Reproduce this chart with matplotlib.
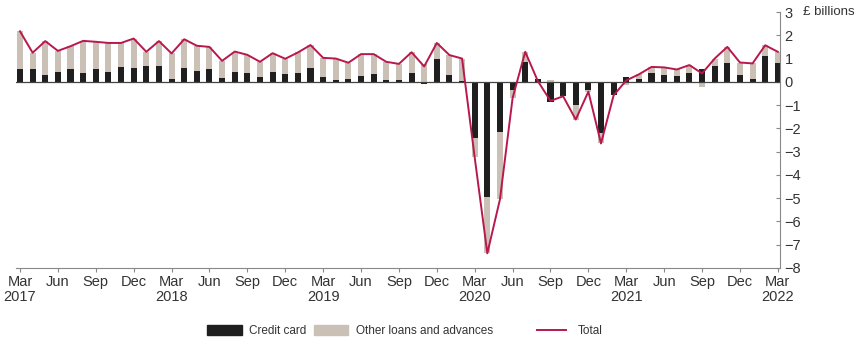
import numpy as np
import matplotlib
matplotlib.use("Agg")
import matplotlib.pyplot as plt
from matplotlib.patches import Patch
from matplotlib.lines import Line2D

plt.rcParams['font.family'] = ['Liberation Sans', 'DejaVu Sans']

# monthly data, Mar 2017 - Mar 2022 (£ billions)
credit_card = [0.53, 0.53, 0.29, 0.43, 0.53, 0.40, 0.57, 0.43, 0.64, 0.61, 0.70, 0.69,
               0.12, 0.59, 0.46, 0.54, 0.17, 0.42, 0.36, 0.21, 0.42, 0.32, 0.36, 0.60,
               0.21, 0.09, 0.14, 0.23, 0.33, 0.09, 0.06, 0.39, -0.10, 0.96, 0.29, 0.02,
               -2.43, -4.94, -2.15, -0.36, 0.86, 0.10, -0.88, -0.61, -1.00, -0.36, -2.22, -0.55,
               0.19, 0.14, 0.39, 0.29, 0.27, 0.36, 0.57, 0.67, 0.82, 0.29, 0.14, 1.13, 0.79]
other_loans = [1.64, 0.72, 1.46, 0.90, 1.00, 1.36, 1.15, 1.24, 1.03, 1.25, 0.59, 1.06,
               1.10, 1.24, 1.09, 0.96, 0.73, 0.88, 0.80, 0.65, 0.81, 0.67, 0.90, 0.98,
               0.82, 0.91, 0.68, 0.96, 0.86, 0.77, 0.71, 0.88, 0.76, 0.71, 0.86, 0.98,
               -0.82, -2.43, -2.90, -0.34, 0.43, -0.07, 0.06, -0.01, -0.62, -0.06, -0.43, -0.03,
               -0.13, 0.18, 0.25, 0.33, 0.26, 0.36, -0.21, 0.33, 0.68, 0.54, 0.65, 0.44, 0.50]
total = [2.17, 1.25, 1.75, 1.33, 1.53, 1.76, 1.72, 1.67, 1.67, 1.86, 1.29, 1.75,
         1.22, 1.83, 1.55, 1.50, 0.90, 1.30, 1.16, 0.86, 1.23, 0.99, 1.26, 1.58,
         1.03, 1.00, 0.82, 1.19, 1.19, 0.86, 0.77, 1.27, 0.66, 1.67, 1.15, 1.00,
         -3.25, -7.37, -5.05, -0.70, 1.29, 0.03, -0.82, -0.62, -1.62, -0.42, -2.65, -0.58,
         0.06, 0.32, 0.64, 0.62, 0.53, 0.72, 0.36, 1.00, 1.50, 0.83, 0.79, 1.57, 1.29]

tick_labels = ["Mar\n2017", "Jun", "Sep", "Dec",
               "Mar\n2018", "Jun", "Sep", "Dec",
               "Mar\n2019", "Jun", "Sep", "Dec",
               "Mar\n2020", "Jun", "Sep", "Dec",
               "Mar\n2021", "Jun", "Sep", "Dec",
               "Mar\n2022"]

cc = np.array(credit_card)
ot = np.array(other_loans)
x = np.arange(len(cc))
# stack other loans on top of credit card only when same sign
bottom = np.where(np.sign(ot) == np.sign(cc), cc, 0)

fig = plt.figure(figsize=(8.58, 3.51), dpi=100)
ax = fig.add_axes([0.0189, 0.2365, 0.8906, 0.7293])

c_cc = '#1f1f1f'
c_ot = '#cbc0b5'
c_tot = '#b8184c'
c_txt = '#333333'

ax.bar(x, cc, width=0.48, color=c_cc, zorder=2)
ax.bar(x, ot, width=0.48, bottom=bottom, color=c_ot, zorder=2)
ax.axhline(0, color='#444444', lw=0.9, zorder=3)
ax.plot(x, total, color=c_tot, lw=1.4, zorder=4)

ax.set_xlim(-0.3, 60.2)
ax.set_ylim(-8, 3)

for s in ['left', 'top']:
    ax.spines[s].set_visible(False)
ax.spines['bottom'].set_color('#888888')
ax.spines['right'].set_color('#888888')
ax.spines['bottom'].set_linewidth(0.8)
ax.spines['right'].set_linewidth(0.8)

ax.yaxis.tick_right()
ax.set_yticks(range(-8, 4))
ax.tick_params(axis='y', direction='in', length=3, color='#888888', labelsize=10.5,
               labelcolor=c_txt, pad=3)
ax.set_xticks(x[::3])
ax.set_xticklabels(tick_labels)
ax.tick_params(axis='x', direction='out', length=3, color='#888888', labelsize=10.5,
               labelcolor=c_txt, pad=2)
for lab in ax.get_xticklabels():
    lab.set_linespacing(1.1)

ax.text(1.03, 1.0, '£ billions', transform=ax.transAxes, fontsize=9.5, color=c_txt,
        ha='left', va='center')

h1 = [Patch(color=c_cc, label='Credit card'), Patch(color=c_ot, label='Other loans and advances')]
h2 = [Line2D([], [], color=c_tot, lw=1.4, label='Total')]
leg1 = fig.legend(handles=h1, loc='center', bbox_to_anchor=(0.408, 0.057), ncol=2, frameon=False,
                  fontsize=8.5, handlelength=2.9, handleheight=0.9, columnspacing=0.6,
                  handletextpad=0.65, labelcolor=c_txt)
leg2 = fig.legend(handles=h2, loc='center', bbox_to_anchor=(0.664, 0.057), frameon=False,
                  fontsize=8.5, handlelength=2.4, handletextpad=1.0, labelcolor=c_txt)

fig.savefig('out.png', dpi=100)
